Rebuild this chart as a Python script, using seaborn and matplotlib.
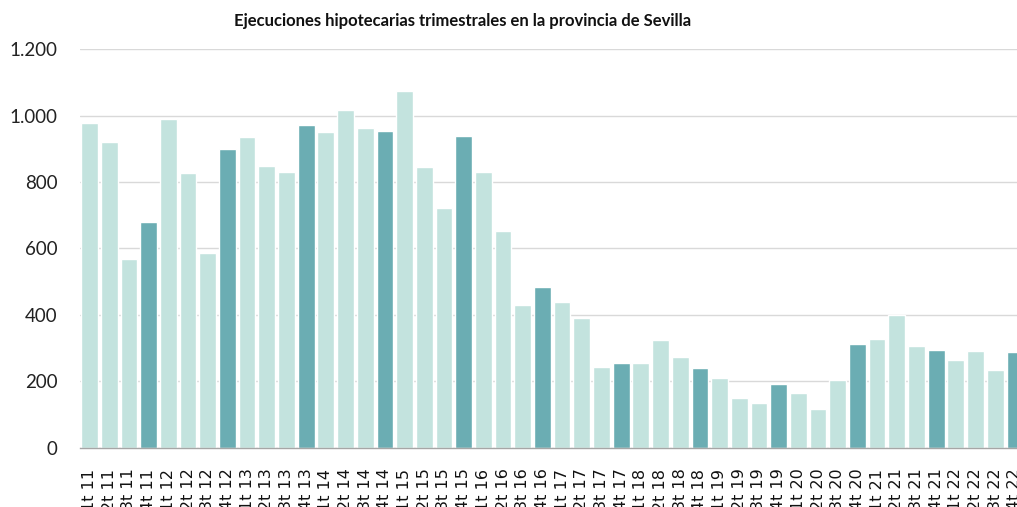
import numpy as np
import pandas as pd
import matplotlib
matplotlib.use("Agg")
import matplotlib.pyplot as plt
import seaborn as sns

# ========================
# DATA
# ========================
years = [11, 12, 13, 14, 15, 16, 17, 18, 19, 20, 21, 22]
quarters = [1, 2, 3, 4]
labels = [f"{q}t {y}" for y in years for q in quarters]

values = [
    979, 921, 569, 681,
    991, 827, 587, 900,
    936, 849, 831, 972,
    950, 1016, 962, 954,
    1074, 845, 721, 939,
    831, 652, 430, 484,
    440, 389, 244, 255,
    255, 324, 273, 241,
    211, 150, 135, 193,
    164, 117, 205, 313,
    328, 400, 306, 295,
    263, 292, 234, 288,
]

light_color = "#C3E3DE"
dark_color = "#6BADB3"
title = "Ejecuciones hipotecarias trimestrales en la provincia de Sevilla"

# ========================
# PLOT
# ========================
sns.set_style("white")
plt.rcParams["font.family"] = ["Lato", "DejaVu Sans"]

df = pd.DataFrame({"periodo": labels, "valor": values})
palette = [dark_color if lab.startswith("4t") else light_color for lab in labels]

fig = plt.figure(figsize=(10.17, 5.07), dpi=100)
ax = fig.add_axes([0.0784, 0.117, 0.9292, 0.786])

sns.barplot(data=df, x="periodo", y="valor", hue="periodo", palette=palette,
            legend=False, width=0.85, ax=ax, saturation=1)

ax.set_ylim(0, 1200)
ax.set_xlim(-0.5, len(labels) - 0.5)
ax.set_yticks(np.arange(0, 1201, 200))
ax.set_yticklabels([f"{v:,}".replace(",", ".") for v in range(0, 1201, 200)],
                   fontsize=13.5, color="#222222")
ax.tick_params(axis="y", length=0, pad=16)

# category labels at centres, tick marks at boundaries
ax.set_xticks(range(len(labels)))
ax.set_xticklabels(labels, rotation=90, fontsize=11.5, family="DejaVu Sans",
                   color="#111111")
ax.tick_params(axis="x", which="major", length=0, pad=15)
ax.set_xticks(np.arange(-0.5, len(labels), 1), minor=True)
ax.tick_params(axis="x", which="minor", length=6, width=1, color="#A6A6A6",
               direction="out")

ax.set_xlabel("")
ax.set_ylabel("")
ax.yaxis.grid(True, color="#D9D9D9", linewidth=1)
ax.set_axisbelow(True)
for side in ["top", "right", "left"]:
    ax.spines[side].set_visible(False)
ax.spines["bottom"].set_color("#A6A6A6")
ax.spines["bottom"].set_linewidth(1)

fig.text(0.455, 0.958, title, ha="center", va="center", fontsize=12,
         fontweight="bold", color="#111111")

fig.savefig("out.png", dpi=100)
